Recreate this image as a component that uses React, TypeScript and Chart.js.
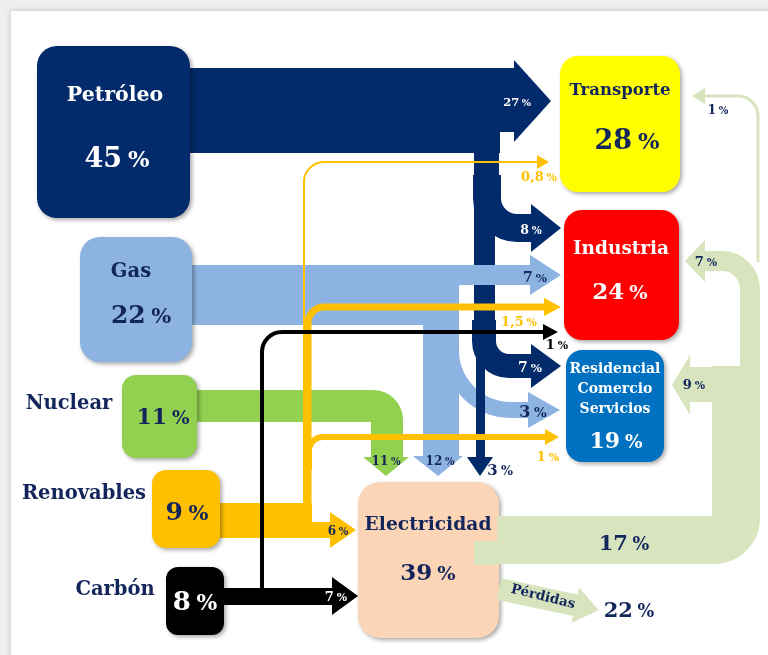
import React, { useEffect, useRef } from "react";
import { Chart, registerables } from "chart.js";
Chart.register(...registerables);

// ---------------- data ----------------
const nodeNames = ["Petróleo", "Gas", "Nuclear", "Renovables", "Carbón", "Transporte", "Industria", "Residencial\nComercio\nServicios", "Electricidad", "Pérdidas"];
const nodeValues = [45, 22, 11, 9, 8, 28, 24, 19, 39, 22];

const flowSources = ["Petróleo", "Petróleo", "Petróleo", "Petróleo", "Gas", "Gas", "Gas", "Nuclear", "Renovables", "Renovables", "Renovables", "Renovables", "Carbón", "Carbón", "Electricidad", "Electricidad", "Electricidad", "Electricidad", "Electricidad"];
const flowTargets = ["Transporte", "Industria", "Residencial", "Electricidad", "Industria", "Residencial", "Electricidad", "Electricidad", "Electricidad", "Transporte", "Industria", "Residencial", "Electricidad", "Industria", "Consumo final", "Industria", "Residencial", "Transporte", "Pérdidas"];
const flowValues = [27, 8, 7, 3, 7, 3, 12, 11, 6, 0.8, 1.5, 1, 7, 1, 17, 7, 9, 1, 22];

// ---------------- styles / layout ----------------
const NAVY = "#13265c";
const FONT = '"DejaVu Serif", "Liberation Serif", serif';
const PET = "#032a6b";
const GAS = "#8db3e2";
const NUC = "#92d050";
const REN = "#ffc000";
const CAR = "#000000";
const ELF = "#d7e4bd";

type Txt = { x: number; y: number; size: number; color: string; lh?: number };
type NodeL = { box: number[] | null; r: number; fill: string; name: Txt | null; value: Txt };

const NODE_LAYOUT: NodeL[] = [
  { box: [37, 46, 190, 218], r: 20, fill: PET, name: { x: 115, y: 96, size: 20.5, color: "#ffffff" }, value: { x: 117, y: 157, size: 27, color: "#ffffff" } },
  { box: [80, 237, 192, 362], r: 20, fill: GAS, name: { x: 131, y: 272, size: 19.5, color: NAVY }, value: { x: 141, y: 314, size: 25, color: NAVY } },
  { box: [122, 375, 197, 458], r: 14, fill: NUC, name: { x: 69, y: 404, size: 19.5, color: NAVY }, value: { x: 163, y: 416, size: 22, color: NAVY } },
  { box: [152, 470, 220, 548], r: 14, fill: REN, name: { x: 84, y: 494, size: 19.5, color: NAVY }, value: { x: 187, y: 511, size: 25, color: NAVY } },
  { box: [166, 567, 224, 635], r: 12, fill: CAR, name: { x: 115, y: 590, size: 19.5, color: NAVY }, value: { x: 195, y: 601, size: 26, color: "#ffffff" } },
  { box: [560, 56, 680, 192], r: 18, fill: "#ffff00", name: { x: 620, y: 91, size: 16.5, color: NAVY }, value: { x: 627, y: 139, size: 27, color: NAVY } },
  { box: [564, 210, 679, 340], r: 18, fill: "#ff0000", name: { x: 621, y: 249, size: 18.5, color: "#ffffff" }, value: { x: 620, y: 291, size: 23, color: "#ffffff" } },
  { box: [566, 350, 664, 462], r: 16, fill: "#0070c0", name: { x: 615, y: 369, size: 14, color: "#ffffff", lh: 20 }, value: { x: 616, y: 440, size: 22, color: "#ffffff" } },
  { box: [358, 482, 499, 638], r: 22, fill: "#fbd5b5", name: { x: 428, y: 525, size: 18.7, color: NAVY }, value: { x: 428, y: 572, size: 23, color: NAVY } },
  { box: null, r: 0, fill: "", name: null, value: { x: 629, y: 609, size: 21, color: NAVY } },
];

type Prim =
  | { t: "rect"; b: number[] }
  | { t: "path"; pts: number[][]; r: number; w: number }
  | { t: "head"; tip: number[]; dir: "r" | "l" | "d"; len: number; half: number }
  | { t: "ray"; start: number[]; angle: number; len: number; w: number; headLen: number; headHalf: number };
type FlowL = { color: string; shapes: Prim[]; label: Txt & { rot?: number } };

const FLOW_LAYOUT: FlowL[] = [
  // 0 Petróleo -> Transporte
  { color: PET, shapes: [{ t: "rect", b: [185, 68, 500, 153] }, { t: "rect", b: [498, 68, 515, 132] }, { t: "head", tip: [551, 101], dir: "r", len: 37, half: 41 }], label: { x: 517, y: 102, size: 11.5, color: "#ffffff" } },
  // 1 Petróleo -> Industria
  { color: PET, shapes: [{ t: "path", pts: [[487, 175], [487, 228], [532, 228]], r: 30, w: 28 }, { t: "head", tip: [561, 228], dir: "r", len: 30, half: 24 }], label: { x: 531, y: 229, size: 12.5, color: "#ffffff" } },
  // 2 Petróleo -> Residencial
  { color: PET, shapes: [{ t: "rect", b: [474, 150, 499, 200] }, { t: "rect", b: [474, 199, 495, 345] }, { t: "path", pts: [[484, 320], [484, 366], [532, 366]], r: 25, w: 24 }, { t: "head", tip: [561, 366], dir: "r", len: 30, half: 22 }], label: { x: 530, y: 367, size: 14, color: "#ffffff" } },
  // 3 Petróleo -> Electricidad
  { color: PET, shapes: [{ t: "rect", b: [476, 340, 485, 458] }, { t: "head", tip: [480, 476], dir: "d", len: 19, half: 13 }], label: { x: 500, y: 470, size: 15, color: NAVY } },
  // 4 Gas -> Industria
  { color: GAS, shapes: [{ t: "rect", b: [185, 265, 459, 325] }, { t: "rect", b: [458, 265, 531, 285] }, { t: "head", tip: [561, 275], dir: "r", len: 31, half: 20 }], label: { x: 535, y: 277, size: 14, color: NAVY } },
  // 5 Gas -> Residencial
  { color: GAS, shapes: [{ t: "path", pts: [[451, 330], [451, 410], [529, 410]], r: 60, w: 16 }, { t: "head", tip: [560, 410], dir: "r", len: 32, half: 18 }], label: { x: 533, y: 411, size: 16, color: NAVY } },
  // 6 Gas -> Electricidad
  { color: GAS, shapes: [{ t: "rect", b: [423, 284, 459, 457] }, { t: "head", tip: [438, 476], dir: "d", len: 20, half: 25 }], label: { x: 440, y: 461, size: 12, color: NAVY } },
  // 7 Nuclear -> Electricidad
  { color: NUC, shapes: [{ t: "path", pts: [[192, 406], [387, 406], [387, 458]], r: 14, w: 32 }, { t: "head", tip: [386, 476], dir: "d", len: 19, half: 23 }], label: { x: 386, y: 461, size: 12, color: NAVY } },
  // 8 Renovables -> Electricidad
  { color: REN, shapes: [{ t: "rect", b: [215, 503, 312, 538] }, { t: "rect", b: [311, 522, 332, 538] }, { t: "head", tip: [356, 530], dir: "r", len: 26, half: 18 }], label: { x: 338, y: 531, size: 12, color: NAVY } },
  // 9 Renovables -> Transporte
  { color: REN, shapes: [{ t: "path", pts: [[304, 505], [304, 162], [538, 162]], r: 20, w: 2 }, { t: "head", tip: [549, 162], dir: "r", len: 12, half: 7 }], label: { x: 539, y: 176, size: 13, color: REN } },
  // 10 Renovables -> Industria
  { color: REN, shapes: [{ t: "path", pts: [[308, 505], [308, 307], [545, 307]], r: 16, w: 7 }, { t: "head", tip: [561, 307], dir: "r", len: 17, half: 9 }], label: { x: 519, y: 321, size: 13, color: REN } },
  // 11 Renovables -> Residencial
  { color: REN, shapes: [{ t: "path", pts: [[309, 470], [309, 437], [546, 437]], r: 14, w: 6 }, { t: "head", tip: [559, 437], dir: "r", len: 14, half: 8 }], label: { x: 548, y: 456, size: 13, color: REN } },
  // 12 Carbón -> Electricidad
  { color: CAR, shapes: [{ t: "rect", b: [220, 588, 333, 605] }, { t: "head", tip: [358, 596], dir: "r", len: 26, half: 19 }], label: { x: 336, y: 596, size: 13, color: "#ffffff" } },
  // 13 Carbón -> Industria
  { color: CAR, shapes: [{ t: "path", pts: [[262, 597], [262, 332], [545, 332]], r: 20, w: 4 }, { t: "head", tip: [558, 332], dir: "r", len: 15, half: 8 }], label: { x: 557, y: 344, size: 13, color: "#000000" } },
  // 14 Electricidad -> consumo final
  { color: ELF, shapes: [{ t: "path", pts: [[497, 540], [736, 540], [736, 366]], r: 22, w: 48 }, { t: "rect", b: [474, 541, 499, 565] }], label: { x: 624, y: 542, size: 21, color: NAVY } },
  // 15 Electricidad -> Industria
  { color: ELF, shapes: [{ t: "path", pts: [[750, 385], [750, 261], [704, 261]], r: 28, w: 20 }, { t: "head", tip: [685, 261], dir: "l", len: 20, half: 21 }], label: { x: 706, y: 261, size: 13, color: NAVY } },
  // 16 Electricidad -> Residencial
  { color: ELF, shapes: [{ t: "rect", b: [689, 367, 737, 402] }, { t: "head", tip: [672, 385], dir: "l", len: 18, half: 30 }], label: { x: 694, y: 384, size: 13, color: NAVY } },
  // 17 Electricidad -> Transporte
  { color: ELF, shapes: [{ t: "path", pts: [[758, 262], [758, 96], [704, 96]], r: 20, w: 3 }, { t: "head", tip: [692, 96], dir: "l", len: 13, half: 8 }], label: { x: 718, y: 110, size: 12, color: NAVY } },
  // 18 Electricidad -> Pérdidas
  { color: ELF, shapes: [{ t: "ray", start: [499, 589], angle: 12, len: 102, w: 22, headLen: 24, headHalf: 18 }], label: { x: 543, y: 597, size: 13.5, color: NAVY, rot: 14 } },
];

const BEFORE_BOXES = [5, 0, 1, 2, 3, 4, 6, 7, 8, 12, 9, 10, 11, 13];
const AFTER_BOXES = [14, 16, 15, 17, 18];

const fmtNum = (v: number) => String(v).replace(".", ",");

// ---------------- drawing plugin ----------------
const diagramPlugin = {
  id: "energyDiagram",
  afterDraw(chart: any) {
    const ctx: CanvasRenderingContext2D = chart.ctx;
    const xs = chart.scales.x;
    const ys = chart.scales.y;
    const X = (v: number) => xs.getPixelForValue(v);
    const Y = (v: number) => ys.getPixelForValue(v);
    const S = (d: number) => Math.abs(X(d) - X(0));

    ctx.save();
    // frame
    ctx.fillStyle = "#eeeeee";
    ctx.fillRect(X(0), Y(0), X(768) - X(0), Y(655) - Y(0));
    ctx.save();
    ctx.shadowColor = "rgba(0,0,0,0.18)";
    ctx.shadowBlur = 6;
    ctx.fillStyle = "#ffffff";
    ctx.fillRect(X(11), Y(11), X(780) - X(11), Y(670) - Y(11));
    ctx.restore();

    const drawPrim = (p: Prim, color: string) => {
      ctx.fillStyle = color;
      ctx.strokeStyle = color;
      if (p.t === "rect") {
        ctx.fillRect(X(p.b[0]), Y(p.b[1]), X(p.b[2]) - X(p.b[0]), Y(p.b[3]) - Y(p.b[1]));
      } else if (p.t === "path") {
        ctx.beginPath();
        ctx.moveTo(X(p.pts[0][0]), Y(p.pts[0][1]));
        for (let i = 1; i < p.pts.length - 1; i++) {
          ctx.arcTo(X(p.pts[i][0]), Y(p.pts[i][1]), X(p.pts[i + 1][0]), Y(p.pts[i + 1][1]), S(p.r));
        }
        const l = p.pts[p.pts.length - 1];
        ctx.lineTo(X(l[0]), Y(l[1]));
        ctx.lineWidth = S(p.w);
        ctx.lineCap = "butt";
        ctx.lineJoin = "miter";
        ctx.stroke();
      } else if (p.t === "head") {
        const tx = p.tip[0], ty = p.tip[1];
        ctx.beginPath();
        ctx.moveTo(X(tx), Y(ty));
        if (p.dir === "r") { ctx.lineTo(X(tx - p.len), Y(ty - p.half)); ctx.lineTo(X(tx - p.len), Y(ty + p.half)); }
        if (p.dir === "l") { ctx.lineTo(X(tx + p.len), Y(ty - p.half)); ctx.lineTo(X(tx + p.len), Y(ty + p.half)); }
        if (p.dir === "d") { ctx.lineTo(X(tx - p.half), Y(ty - p.len)); ctx.lineTo(X(tx + p.half), Y(ty - p.len)); }
        ctx.closePath();
        ctx.fill();
      } else if (p.t === "ray") {
        const a = (p.angle * Math.PI) / 180;
        const ux = Math.cos(a), uy = Math.sin(a);
        const nx = -uy, ny = ux;
        const [sx, sy] = p.start;
        const bl = p.len - p.headLen;
        const hw = p.w / 2;
        const pts = [
          [sx - nx * hw, sy - ny * hw],
          [sx + ux * bl - nx * hw, sy + uy * bl - ny * hw],
          [sx + ux * bl - nx * p.headHalf, sy + uy * bl - ny * p.headHalf],
          [sx + ux * p.len, sy + uy * p.len],
          [sx + ux * bl + nx * p.headHalf, sy + uy * bl + ny * p.headHalf],
          [sx + ux * bl + nx * hw, sy + uy * bl + ny * hw],
          [sx + nx * hw, sy + ny * hw],
        ];
        ctx.beginPath();
        pts.forEach((q, i) => (i ? ctx.lineTo(X(q[0]), Y(q[1])) : ctx.moveTo(X(q[0]), Y(q[1]))));
        ctx.closePath();
        ctx.fill();
      }
    };
    const drawFlow = (i: number) => FLOW_LAYOUT[i].shapes.forEach((p) => drawPrim(p, FLOW_LAYOUT[i].color));

    const text = (s: string, t: Txt & { rot?: number }) => {
      ctx.save();
      ctx.font = `bold ${S(t.size)}px ${FONT}`;
      ctx.fillStyle = t.color;
      ctx.textAlign = "center";
      ctx.textBaseline = "middle";
      ctx.translate(X(t.x), Y(t.y));
      if (t.rot) ctx.rotate((t.rot * Math.PI) / 180);
      const lines = s.split("\n");
      lines.forEach((ln, k) => ctx.fillText(ln, 0, S(k * (t.lh || 0))));
      ctx.restore();
    };
    // number + smaller "%" sign, centred on (x, y)
    const pct = (num: string, t: Txt) => {
      ctx.save();
      const size = S(t.size);
      const small = size * 0.84;
      ctx.fillStyle = t.color;
      ctx.textAlign = "left";
      ctx.textBaseline = "alphabetic";
      ctx.font = `bold ${size}px ${FONT}`;
      const wn = ctx.measureText(num).width;
      ctx.font = `bold ${small}px ${FONT}`;
      const wp = ctx.measureText("%").width;
      const gap = size * 0.22;
      const x0 = X(t.x) - (wn + gap + wp) / 2;
      const base = Y(t.y) + size * 0.365;
      ctx.font = `bold ${size}px ${FONT}`;
      ctx.fillText(num, x0, base);
      ctx.font = `bold ${small}px ${FONT}`;
      ctx.fillText("%", x0 + wn + gap, base);
      ctx.restore();
    };

    BEFORE_BOXES.forEach(drawFlow);

    // boxes
    NODE_LAYOUT.forEach((n) => {
      if (!n.box) return;
      ctx.save();
      ctx.shadowColor = "rgba(0,0,0,0.35)";
      ctx.shadowBlur = 4;
      ctx.shadowOffsetX = 2;
      ctx.shadowOffsetY = 2;
      ctx.fillStyle = n.fill;
      ctx.beginPath();
      ctx.roundRect(X(n.box[0]), Y(n.box[1]), X(n.box[2]) - X(n.box[0]), Y(n.box[3]) - Y(n.box[1]), S(n.r));
      ctx.fill();
      ctx.restore();
    });

    AFTER_BOXES.forEach(drawFlow);

    // node labels
    NODE_LAYOUT.forEach((n, i) => {
      if (n.name) text(nodeNames[i], n.name);
      pct(String(nodeValues[i]), n.value);
    });
    // flow labels
    FLOW_LAYOUT.forEach((f, i) => {
      if (flowTargets[i] === "Pérdidas") text(flowTargets[i], f.label);
      else pct(fmtNum(flowValues[i]), f.label);
    });
    ctx.restore();
  },
};

export default function App() {
  const ref = useRef<HTMLCanvasElement | null>(null);
  useEffect(() => {
    document.body.style.margin = "0";
    const canvas = ref.current!;
    const anchors = NODE_LAYOUT.map((n) => ({ x: n.value.x, y: n.value.y }));
    const chart = new Chart(canvas, {
      type: "scatter",
      data: { datasets: [{ data: anchors, pointRadius: 0, showLine: false }] },
      options: {
        animation: false,
        responsive: false,
        events: [],
        layout: { padding: 0 },
        scales: {
          x: { type: "linear", min: 0, max: 768, display: false },
          y: { type: "linear", min: 0, max: 655, reverse: true, display: false },
        },
        plugins: { legend: { display: false }, tooltip: { enabled: false } },
      },
      plugins: [diagramPlugin],
    } as any);
    return () => chart.destroy();
  }, []);
  return (
    <div style={{ width: 768, height: 655 }}>
      <canvas ref={ref} width={768} height={655} style={{ display: "block" }} />
    </div>
  );
}
